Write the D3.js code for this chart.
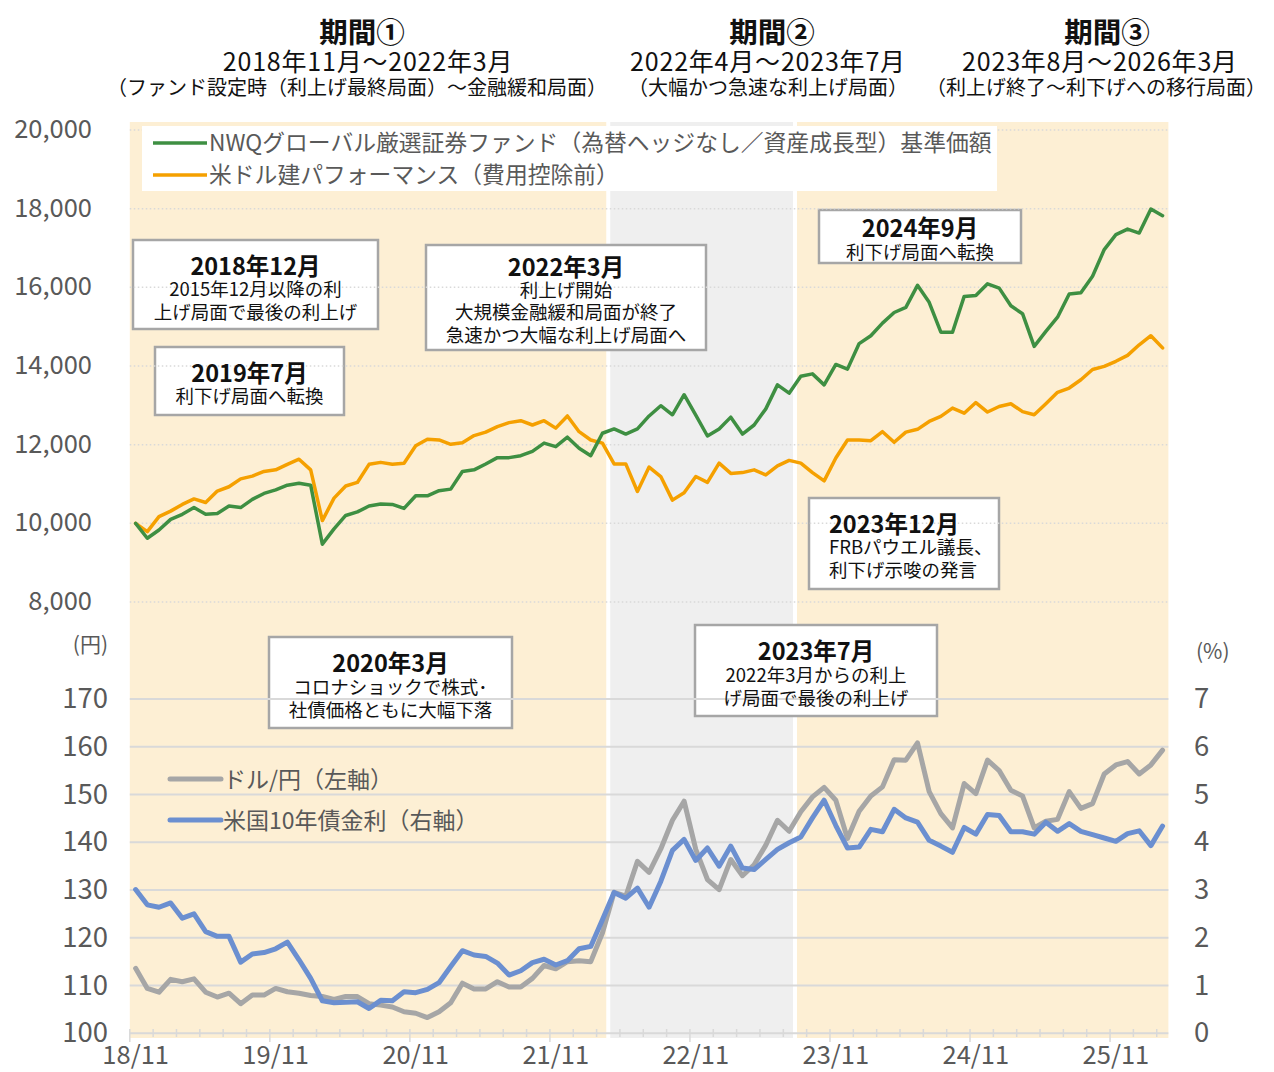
<!DOCTYPE html>
<html>
<head>
<meta charset="utf-8">
<script src="https://cdn.jsdelivr.net/npm/d3@7"></script>
<style>
  body { margin: 0; background: #fff; }
  text { font-family: "Noto Sans CJK JP", "Noto Sans", sans-serif; }
</style>
</head>
<body>
<div id="app"></div>
<script>
(function (d3) {

  'use strict'

  // months 2018/11 .. 2026/03
  const months = d3.timeMonth.range(new Date(2018, 10, 1), new Date(2026, 3, 1))
  const tickLabels = ['18/11', '19/11', '20/11', '21/11', '22/11', '23/11', '24/11', '25/11']

  // fund NAV (JPY, no hedge)
  const navJPY = [10000, 9620, 9830, 10100, 10230, 10400, 10230, 10250, 10440, 10400,
    10610, 10760, 10850, 10970, 11020, 10970, 9470, 9860, 10200, 10290,
    10440, 10490, 10480, 10380, 10700, 10700, 10830, 10870, 11320, 11360,
    11510, 11670, 11670, 11720, 11830, 12040, 11950, 12190, 11910, 11720,
    12290, 12400, 12270, 12400, 12730, 12990, 12760, 13270, 12750, 12220,
    12400, 12700, 12270, 12500, 12910, 13520, 13310, 13740, 13800, 13520,
    14040, 13920, 14570, 14770, 15090, 15360, 15490, 16050, 15620, 14860,
    14860, 15770, 15790, 16090, 15980, 15530, 15330, 14500, 14880, 15240,
    15830, 15860, 16280, 16960, 17340, 17480, 17380, 17990, 17820]

  // USD based performance (before fees)
  const navUSD = [10000, 9790, 10170, 10310, 10480, 10620, 10530, 10820, 10930, 11130,
    11200, 11320, 11360, 11500, 11630, 11360, 10070, 10640, 10950, 11040,
    11500, 11550, 11500, 11530, 11970, 12140, 12120, 12010, 12050, 12230,
    12320, 12460, 12560, 12610, 12500, 12610, 12420, 12730, 12330, 12120,
    12040, 11510, 11510, 10810, 11430, 11190, 10590, 10780, 11190, 11040,
    11530, 11270, 11290, 11360, 11230, 11460, 11600, 11530, 11290, 11080,
    11660, 12120, 12120, 12100, 12330, 12060, 12320, 12390, 12590, 12720,
    12930, 12800, 13070, 12830, 12970, 13040, 12840, 12760, 13040, 13330,
    13440, 13650, 13910, 13990, 14120, 14270, 14540, 14770, 14460]

  const usdjpy = [113.6, 109.4, 108.6, 111.3, 110.8, 111.4, 108.6, 107.6, 108.4, 106.2,
    108.0, 108.0, 109.4, 108.7, 108.4, 107.9, 107.7, 107.1, 107.7, 107.7,
    106.2, 105.9, 105.5, 104.5, 104.2, 103.3, 104.5, 106.4, 110.5, 109.3,
    109.3, 110.8, 109.7, 109.7, 111.5, 114.2, 113.5, 115.0, 115.2, 115.0,
    121.0, 129.5, 128.7, 136.0, 133.7, 138.6, 144.6, 148.6, 138.5, 132.2,
    130.1, 136.4, 133.0, 135.3, 139.4, 144.6, 142.3, 146.4, 149.5, 151.5,
    148.8, 140.8, 146.5, 149.7, 151.6, 157.3, 157.2, 160.8, 150.6, 146.0,
    143.0, 152.3, 150.2, 157.2, 155.0, 150.9, 149.7, 143.0, 144.4, 144.8,
    150.6, 147.1, 148.1, 154.3, 156.2, 156.9, 154.3, 156.2, 159.3]

  const ust10y = [3.01, 2.69, 2.64, 2.73, 2.41, 2.50, 2.13, 2.03, 2.03, 1.49,
    1.66, 1.69, 1.77, 1.91, 1.54, 1.15, 0.68, 0.64, 0.65, 0.66,
    0.52, 0.69, 0.68, 0.87, 0.85, 0.92, 1.06, 1.40, 1.73, 1.64,
    1.61, 1.47, 1.22, 1.31, 1.48, 1.55, 1.43, 1.52, 1.77, 1.82,
    2.38, 2.95, 2.83, 3.04, 2.64, 3.18, 3.83, 4.06, 3.62, 3.88,
    3.50, 3.92, 3.46, 3.43, 3.64, 3.85, 3.99, 4.11, 4.51, 4.88,
    4.35, 3.88, 3.90, 4.27, 4.22, 4.69, 4.51, 4.42, 4.04, 3.92,
    3.79, 4.31, 4.17, 4.58, 4.56, 4.22, 4.22, 4.17, 4.42, 4.23,
    4.39, 4.23, 4.16, 4.09, 4.02, 4.18, 4.24, 3.93, 4.34]

  const navTicks = [8000, 10000, 12000, 14000, 16000, 18000, 20000]
  const jpyTicks = [100, 110, 120, 130, 140, 150, 160, 170]
  const rateTicks = [0, 1, 2, 3, 4, 5, 6, 7]

  // period bands: first / last month index
  const periodStart = [0, 41, 57]
  const periodEnd = [40, 56, 88]
  const periodNames = ['期間①', '期間②', '期間③']
  const periodDates = ['2018年11月～2022年3月', '2022年4月～2023年7月', '2023年8月～2026年3月']
  const periodNotes = ['（ファンド設定時（利上げ最終局面）～金融緩和局面）', '（大幅かつ急速な利上げ局面）', '（利上げ終了～利下げへの移行局面）']

  const legendTop = ['NWQグローバル厳選証券ファンド（為替ヘッジなし／資産成長型）基準価額', '米ドル建パフォーマンス（費用控除前）']
  const legendBottom = ['ドル/円（左軸）', '米国10年債金利（右軸）']

  const notes = [
    ['2018年12月', '2015年12月以降の利', '上げ局面で最後の利上げ'],
    ['2019年7月', '利下げ局面へ転換'],
    ['2022年3月', '利上げ開始', '大規模金融緩和局面が終了', '急速かつ大幅な利上げ局面へ'],
    ['2024年9月', '利下げ局面へ転換'],
    ['2023年12月', 'FRBパウエル議長、', '利下げ示唆の発言'],
    ['2020年3月', 'コロナショックで株式･', '社債価格ともに大幅下落'],
    ['2023年7月', '2022年3月からの利上', 'げ局面で最後の利上げ']
  ]

  // layout
  const W = 1274
  const H = 1072
  const titleX = [[362, 368, 357], [772, 768, 768], [1107, 1100, 1096]]
  const noteBoxes = [
    {x: 133, y: 240, w: 245, h: 89, first: 25, step: 23, align: 'middle'},
    {x: 155, y: 347, w: 189, h: 68, first: 25, step: 23, align: 'middle'},
    {x: 426, y: 245, w: 280, h: 105, first: 21, step: 22.7, align: 'middle'},
    {x: 819, y: 210, w: 202, h: 53, first: 17, step: 24, align: 'middle'},
    {x: 809, y: 498, w: 190, h: 91, first: 25, step: 23, align: 'start'},
    {x: 269, y: 637, w: 243, h: 91, first: 25, step: 23.5, align: 'middle'},
    {x: 695, y: 625, w: 242, h: 91, first: 25, step: 23.5, align: 'middle'}
  ]

  const txtGray = '#595959'
  const colGreen = '#3e8f42'
  const colOrange = '#f5a000'
  const colGrayLine = '#a6a6a6'
  const colBlue = '#6b8fd0'
  const gridCol = '#d9d9d9'

  const svg = d3.select('#app')
    .append('svg')
    .attr('width', W)
    .attr('height', H)

  svg.append('rect').attr('width', W).attr('height', H).attr('fill', '#fff')

  const x = d3.scaleBand()
    .domain(d3.range(months.length))
    .range([129.8, 1168.4])
    .paddingInner(0)
  const xc = i => x(i) + x.bandwidth() / 2

  const yTop = d3.scaleLinear().domain([8000, 20000]).range([602, 130])
  const yJpy = d3.scaleLinear().domain([100, 170]).range([1033.3, 699])
  const yRate = d3.scaleLinear().domain([0, 7]).range([1033.3, 699])

  // period shading
  const shadeFill = ['#fdefd4', '#efefef', '#fdefd4']
  svg.append('g')
    .selectAll('rect')
    .data(d3.range(3))
    .enter()
    .append('rect')
    .attr('x', i => x(periodStart[i]) + (i > 0 ? 2 : 0))
    .attr('width', i => x(periodEnd[i]) + x.bandwidth() - x(periodStart[i]) - (i > 0 ? 2 : 0) - (i < 2 ? 2 : 0))
    .attr('y', 122)
    .attr('height', 1038 - 122)
    .attr('fill', i => shadeFill[i])

  // titles
  const titles = svg.append('g').attr('text-anchor', 'middle').attr('fill', '#111')
  titles.selectAll('.pname')
    .data(periodNames)
    .enter()
    .append('text')
    .attr('x', (d, i) => titleX[i][0])
    .attr('y', 43)
    .attr('font-size', 28.5)
    .attr('font-weight', 'bold')
    .text(d => d)
  titles.selectAll('.pdate')
    .data(periodDates)
    .enter()
    .append('text')
    .attr('x', (d, i) => titleX[i][1])
    .attr('y', 71)
    .attr('font-size', 25)
    .attr('letter-spacing', 0.8)
    .text(d => d)
  titles.selectAll('.pnote')
    .data(periodNotes)
    .enter()
    .append('text')
    .attr('x', (d, i) => titleX[i][2])
    .attr('y', 95)
    .attr('font-size', 20)
    .text(d => d)

  // annotation boxes (under the grid lines, as in the source)
  svg.append('g')
    .selectAll('rect')
    .data(noteBoxes)
    .enter()
    .append('rect')
    .attr('x', d => d.x)
    .attr('y', d => d.y)
    .attr('width', d => d.w)
    .attr('height', d => d.h)
    .attr('fill', '#fff')
    .attr('stroke', '#a6a6a6')
    .attr('stroke-width', 2.5)

  // grid - top panel (dotted)
  svg.append('g')
    .selectAll('line')
    .data(navTicks)
    .enter()
    .append('line')
    .attr('x1', 129.8).attr('x2', 1168.4)
    .attr('y1', d => yTop(d)).attr('y2', d => yTop(d))
    .attr('stroke', gridCol)
    .attr('stroke-width', 1.5)
    .attr('stroke-dasharray', '1.5,2.5')

  // grid - bottom panel (solid)
  svg.append('g')
    .selectAll('line')
    .data(jpyTicks)
    .enter()
    .append('line')
    .attr('x1', 129.8).attr('x2', 1168.4)
    .attr('y1', d => yJpy(d)).attr('y2', d => yJpy(d))
    .attr('stroke', gridCol)
    .attr('stroke-width', 2)

  // x ticks
  const xt = svg.append('g').attr('stroke', gridCol).attr('stroke-width', 1.5)
  xt.selectAll('line')
    .data(d3.range(0, months.length, 2))
    .enter()
    .append('line')
    .attr('x1', i => x(i)).attr('x2', i => x(i))
    .attr('y1', 1029)
    .attr('y2', i => (i % 12 === 0 ? 1042 : 1037))

  svg.append('g')
    .attr('text-anchor', 'middle')
    .attr('fill', txtGray)
    .attr('font-size', 25.5)
    .selectAll('text')
    .data(tickLabels)
    .enter()
    .append('text')
    .attr('x', (d, i) => xc(i * 12))
    .attr('y', 1064)
    .text(d => d)

  // axis labels
  svg.append('g')
    .attr('text-anchor', 'end')
    .attr('fill', txtGray)
    .attr('font-size', 25.5)
    .selectAll('text')
    .data(navTicks)
    .enter()
    .append('text')
    .attr('x', 92)
    .attr('y', d => yTop(d) + 8)
    .text(d => d3.format(',')(d))

  svg.append('g')
    .attr('text-anchor', 'end')
    .attr('fill', txtGray)
    .attr('font-size', 27.5)
    .selectAll('text')
    .data(jpyTicks)
    .enter()
    .append('text')
    .attr('x', 108)
    .attr('y', d => yJpy(d) + 9)
    .text(d => d)

  svg.append('g')
    .attr('text-anchor', 'start')
    .attr('fill', txtGray)
    .attr('font-size', 27.5)
    .selectAll('text')
    .data(rateTicks)
    .enter()
    .append('text')
    .attr('x', 1194)
    .attr('y', d => yRate(d) + 9)
    .text(d => d)

  svg.append('text').attr('x', 108).attr('y', 652).attr('text-anchor', 'end')
    .attr('fill', txtGray).attr('font-size', 21).text('(円)')
  svg.append('text').attr('x', 1196).attr('y', 659).attr('text-anchor', 'start')
    .attr('fill', txtGray).attr('font-size', 21).text('(%)')

  // lines
  const lineOf = (scale) => d3.line().x((d, i) => xc(i)).y(d => scale(d))
  const drawLine = (data, scale, color, width) => {
    svg.append('path')
      .datum(data)
      .attr('d', lineOf(scale))
      .attr('fill', 'none')
      .attr('stroke', color)
      .attr('stroke-width', width)
      .attr('stroke-linejoin', 'round')
      .attr('stroke-linecap', 'round')
  }
  drawLine(navUSD, yTop, colOrange, 3.5)
  drawLine(navJPY, yTop, colGreen, 3.5)
  drawLine(usdjpy, yJpy, colGrayLine, 5)
  drawLine(ust10y, yRate, colBlue, 5)

  // annotation text
  noteBoxes.forEach((b, k) => {
    const g = svg.append('g').attr('fill', '#111')
    const tx = b.align === 'middle' ? b.x + b.w / 2 : b.x + 20
    notes[k].forEach((t, j) => {
      g.append('text')
        .attr('x', tx)
        .attr('y', b.y + b.first + j * b.step)
        .attr('dominant-baseline', 'central')
        .attr('text-anchor', b.align)
        .attr('font-size', j === 0 ? 23.5 : 18.5)
        .attr('font-weight', j === 0 ? 'bold' : 'normal')
        .text(t)
    })
  })

  // legend - top
  const lgTop = svg.append('g')
  lgTop.append('rect').attr('x', 142).attr('y', 126).attr('width', 855).attr('height', 65).attr('fill', '#fff')
  const topCols = [colGreen, colOrange]
  legendTop.forEach((t, k) => {
    const yy = 143 + k * 32
    lgTop.append('line').attr('x1', 153).attr('x2', 207).attr('y1', yy).attr('y2', yy)
      .attr('stroke', topCols[k]).attr('stroke-width', 3.5)
    lgTop.append('text').attr('x', 209).attr('y', yy + 8).attr('font-size', 22.8)
      .attr('fill', txtGray).text(t)
  })

  // legend - bottom
  const botCols = [colGrayLine, colBlue]
  legendBottom.forEach((t, k) => {
    const yy = 779 + k * 41
    svg.append('line').attr('x1', 170).attr('x2', 221).attr('y1', yy).attr('y2', yy)
      .attr('stroke', botCols[k]).attr('stroke-width', 5).attr('stroke-linecap', 'round')
    svg.append('text').attr('x', 223).attr('y', yy + 9).attr('font-size', 23)
      .attr('fill', txtGray).text(t)
  })

}(d3))
</script>
</body>
</html>
